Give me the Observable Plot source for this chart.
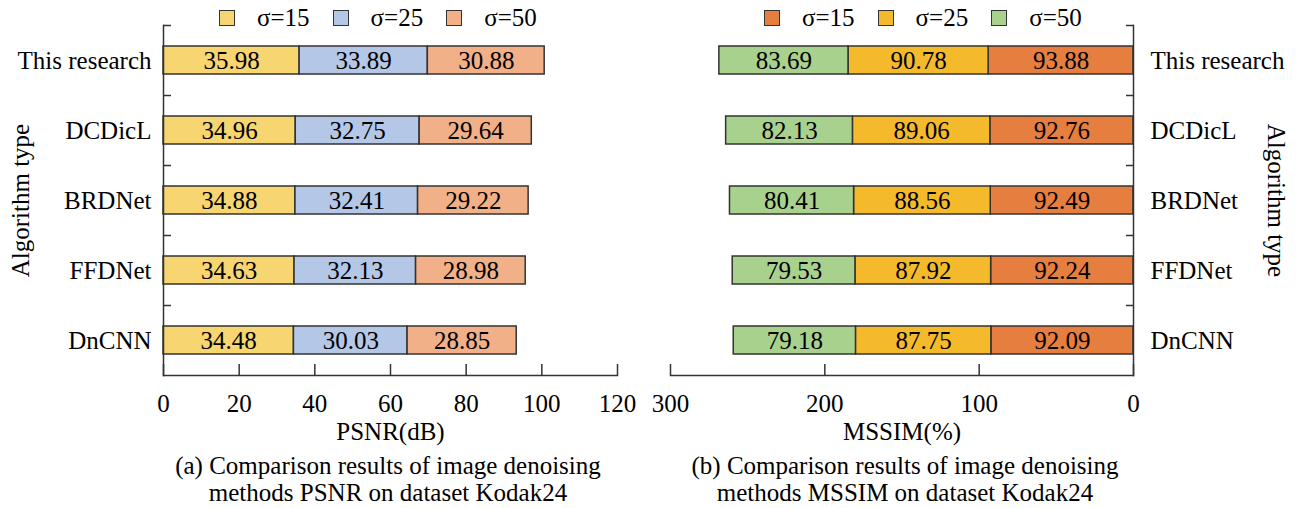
<!DOCTYPE html>
<html>
<head>
<meta charset="utf-8">
<script src="https://cdn.jsdelivr.net/npm/d3@7"></script>
<script src="https://cdn.jsdelivr.net/npm/@observablehq/plot@0.6"></script>
<style>
  html, body { margin: 0; padding: 0; background: #fff; }
  #root { position: relative; width: 1297px; height: 508px; font-family: "Liberation Serif", "Times New Roman", serif; color: #000; overflow: hidden; }
  .plot { position: absolute; top: 0; }
  .legend { position: absolute; top: 4px; display: flex; align-items: center; font-size: 25px; }
  .legend .sw { width: 16px; height: 16px; border: 1.5px solid #333; box-sizing: border-box; margin-right: 22px; }
  .legend .lab { margin-right: 23px; line-height: 28px; }
  .cap { position: absolute; top: 452px; width: 600px; text-align: center; font-size: 25px; line-height: 27px; }
</style>
</head>
<body>
<div id="root"></div>
<script>
// ---------- data ----------
const algorithms = ["This research", "DCDicL", "BRDNet", "FFDNet", "DnCNN"];
const sigmas = ["σ=15", "σ=25", "σ=50"];
// PSNR (dB) per algorithm: σ=15, σ=25, σ=50
const psnr15 = [35.98, 34.96, 34.88, 34.63, 34.48];
const psnr25 = [33.89, 32.75, 32.41, 32.13, 30.03];
const psnr50 = [30.88, 29.64, 29.22, 28.98, 28.85];
// MSSIM (%) per algorithm: σ=15, σ=25, σ=50
const mssim15 = [93.88, 92.76, 92.49, 92.24, 92.09];
const mssim25 = [90.78, 89.06, 88.56, 87.92, 87.75];
const mssim50 = [83.69, 82.13, 80.41, 79.53, 79.18];
const xTicksL = [0, 20, 40, 60, 80, 100, 120];
const xTicksR = [0, 100, 200, 300];
const colorsL = ["#F7D571", "#B4C7E7", "#F1B087"];
const colorsR = ["#E67E3F", "#F5BA2B", "#A9D18E"];
const yLabel = "Algorithm type";
const xLabelL = "PSNR(dB)";
const xLabelR = "MSSIM(%)";
const capL = ["(a) Comparison results of image denoising", "methods PSNR on dataset Kodak24"];
const capR = ["(b) Comparison results of image denoising", "methods MSSIM on dataset Kodak24"];

function toRows(s15, s25, s50) {
  const rows = [];
  [s15, s25, s50].forEach((arr, k) => {
    algorithms.forEach((a, i) => rows.push({alg: a, sigma: sigmas[k], value: arr[i]}));
  });
  return rows;
}
const rowsL = toRows(psnr15, psnr25, psnr50);
const rowsR = toRows(mssim15, mssim25, mssim50);

const font = "'Liberation Serif', 'Times New Roman', serif";
const axisStroke = "#333";
const FS = 25;

function chart(rows, opts) {
  const right = opts.right;
  return Plot.plot({
    width: opts.width, height: 452,
    marginLeft: opts.marginLeft, marginRight: opts.marginRight, marginTop: 25, marginBottom: 77,
    style: {fontFamily: font, fontSize: FS + "px", color: "#000", background: "white", overflow: "visible"},
    x: {domain: opts.domain, reverse: right},
    y: {domain: algorithms, padding: 0},
    color: {domain: sigmas, range: opts.colors},
    marks: [
      Plot.barX(rows, Plot.stackX({y: "alg", x: "value", fill: "sigma", stroke: "#333", strokeWidth: 1.5, insetTop: 21, insetBottom: 21})),
      Plot.text(rows, Plot.stackX({y: "alg", x: "value", z: "sigma", text: d => d.value.toFixed(2), fill: "#000", fontSize: FS})),
      Plot.axisX({ticks: opts.ticks, tickSize: -11, tickPadding: 30, tickFormat: d => String(d), label: null, stroke: axisStroke, strokeWidth: 1.5, fontSize: FS}),
      Plot.axisY({anchor: right ? "right" : "left", tickSize: 0, tickPadding: right ? 17 : 12, label: null, fontSize: FS}),
      Plot.axisY({anchor: right ? "right" : "left", tickSize: -8, dy: -35, tickFormat: () => "", label: null, stroke: axisStroke, strokeWidth: 1.5}),
      Plot.frame({anchor: right ? "right" : "left", stroke: axisStroke, strokeWidth: 1.5}),
      Plot.frame({anchor: "bottom", stroke: axisStroke, strokeWidth: 1.5}),
      Plot.text([yLabel], {frameAnchor: right ? "right" : "left", textAnchor: "middle", rotate: right ? 90 : -90, dx: right ? 142 : -143, fontSize: FS}),
      Plot.text([opts.xLabel], {frameAnchor: "bottom", dy: 64, fontSize: FS})
    ]
  });
}

const root = document.getElementById("root");

const left = chart(rowsL, {width: 650, marginLeft: 163, marginRight: 33, domain: [0, 120], ticks: xTicksL, colors: colorsL, xLabel: xLabelL, right: false});
left.classList.add("plot");
left.style.left = "0px";
root.appendChild(left);

const rightC = chart(rowsR, {width: 647, marginLeft: 20, marginRight: 164, domain: [0, 300], ticks: xTicksR, colors: colorsR, xLabel: xLabelR, right: true});
rightC.classList.add("plot");
rightC.style.left = "650px";
root.appendChild(rightC);

function legend(colors, leftPx) {
  const div = document.createElement("div");
  div.className = "legend";
  div.style.left = leftPx + "px";
  sigmas.forEach((s, i) => {
    const sw = document.createElement("div");
    sw.className = "sw";
    sw.style.background = colors[i];
    const lab = document.createElement("div");
    lab.className = "lab";
    lab.textContent = s;
    div.appendChild(sw);
    div.appendChild(lab);
  });
  root.appendChild(div);
}
legend(colorsL, 219);
legend(colorsR, 764);

function caption(lines, centerX) {
  const div = document.createElement("div");
  div.className = "cap";
  div.style.left = (centerX - 300) + "px";
  div.innerHTML = lines.map(l => `<div>${l}</div>`).join("");
  root.appendChild(div);
}
caption(capL, 388);
caption(capR, 905);
</script>
</body>
</html>
